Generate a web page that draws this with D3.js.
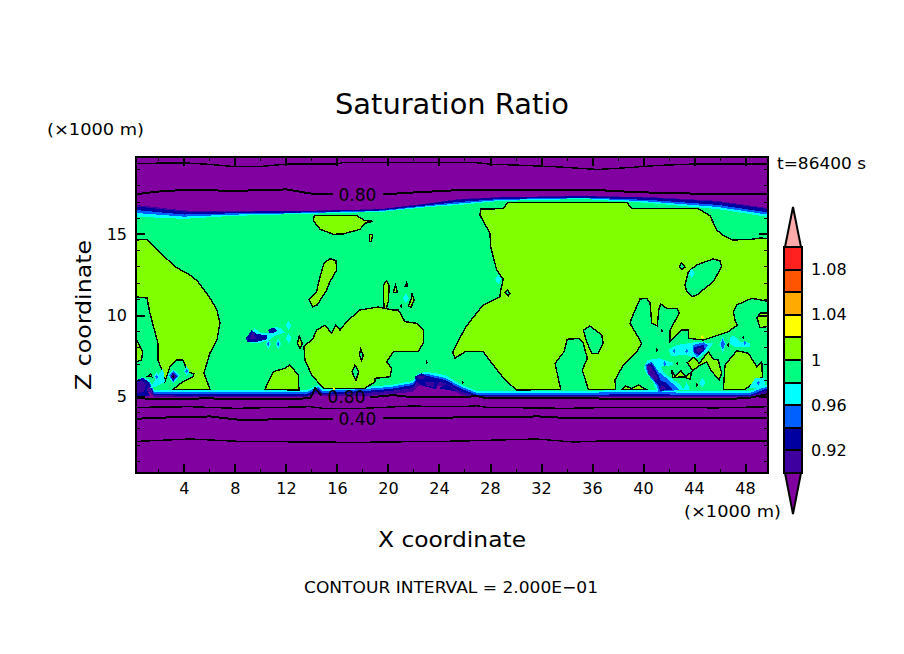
<!DOCTYPE html>
<html>
<head>
<meta charset="utf-8">
<script src="https://cdn.jsdelivr.net/npm/d3@7"></script>
<style>
  body { margin: 0; background: #fff; }
  text { font-family: "DejaVu Sans", sans-serif; fill: #000; }
</style>
</head>
<body>
<svg id="chart" width="904" height="654"></svg>
<script>
// colour bar
var levels = [0.9, 0.92, 0.94, 0.96, 0.98, 1, 1.02, 1.04, 1.06, 1.08, 1.1];
var levelColors = ["#3f00a0", "#0000a0", "#0060ff", "#00ffff", "#00ff80", "#80ff00", "#ffff00", "#ffaa00", "#ff5500", "#ff2020"];
var belowColor = "#8000a0", aboveColor = "#ffaaaa";
var barLabels = [0.92, 0.96, 1, 1.04, 1.08];

var xMajor = [4, 8, 12, 16, 20, 24, 28, 32, 36, 40, 44, 48];
var xMinor = [2, 6, 10, 14, 18, 22, 26, 30, 34, 38, 42, 46];
var zMajor = [5, 10, 15];
var zMinor = [1, 2, 3, 4, 6, 7, 8, 9, 11, 12, 13, 14, 16, 17, 18, 19];

// edges of the moist layer, one array per level
var xTop = [0.2, 4, 7.6, 12.9, 19.4, 23.3, 25.6, 28.8, 35.3, 40.5, 45.8, 49.8];
var top090 = [16.8, 16.45, 16.42, 16.42, 16.54, 16.91, 17.16, 17.28, 17.35, 17.28, 17.05, 16.6];
var top092 = [16.7, 16.38, 16.38, 16.40, 16.52, 16.88, 17.12, 17.25, 17.33, 17.24, 16.99, 16.53];
var top094 = [16.48, 16.2, 16.27, 16.32, 16.45, 16.79, 16.98, 17.16, 17.25, 17.1, 16.8, 16.33];
var top096 = [16.3, 16.07, 16.19, 16.28, 16.41, 16.73, 16.88, 17.1, 17.21, 17.0, 16.67, 16.19];
var top098 = [16.07, 15.93, 16.11, 16.23, 16.36, 16.67, 16.79, 17.04, 17.16, 16.91, 16.54, 16.05];

var xLow = [0.2, 0.71, 1.33, 1.65, 5.02, 9.18, 13.65, 14.12, 14.51, 14.9, 18.2, 20.16, 21.96, 22.35, 23.14, 24.47, 25.8, 26.98, 33.49, 40.31, 44.47, 48.39, 49.8];
var low090 = [5, 5.25, 5.25, 4.94, 4.94, 4.94, 4.94, 5.06, 5.19, 5, 5, 5.12, 5.25, 5.62, 5.74, 5.56, 5.06, 4.94, 4.94, 4.94, 4.94, 4.94, 5.19];
var low092 = [5.49, 5.8, 5.56, 5.06, 5, 5, 5, 5.19, 5.31, 5.12, 5.19, 5.31, 5.49, 5.99, 5.99, 5.8, 5.25, 5, 5, 5, 5, 5, 5.37];
var low094 = [5.62, 5.93, 5.74, 5.12, 5.12, 5.12, 5.12, 5.31, 5.43, 5.19, 5.31, 5.43, 5.68, 6.17, 6.23, 5.99, 5.43, 5.06, 5.06, 5.12, 5.06, 5.06, 5.49];
var low096 = [5.74, 6.05, 5.86, 5.25, 5.25, 5.25, 5.25, 5.43, 5.56, 5.31, 5.43, 5.56, 5.8, 6.3, 6.36, 6.11, 5.56, 5.19, 5.19, 5.25, 5.19, 5.19, 5.62];
var low098 = [5.86, 6.17, 5.99, 5.37, 5.37, 5.37, 5.37, 5.56, 5.68, 5.43, 5.56, 5.68, 5.93, 6.42, 6.48, 6.30, 5.68, 5.31, 5.31, 5.37, 5.31, 5.31, 5.74];

// regions above 1.0, as [x, z] in the chart's own units
var limeLeft = [[0,14.63],[0.29,14.63],[1.07,14.67],[1.57,14.32],[2.35,13.70],[3.29,12.98],[4.47,12.47],[5.1,12.06],[6.04,11.05],[6.59,10.31],[6.82,9.51],[6.59,8.46],[6.04,7.65],[5.57,6.42],[6.04,5.41],[3.14,5.41],[3.92,5.88],[4.71,6.19],[4.78,6.36],[4.31,6.50],[3.92,7.22],[3.45,7.22],[2.9,6.81],[2.51,5.88],[2.27,6.6],[1.96,7.22],[1.96,8.27],[1.33,10.12],[1.1,11.05],[0.29,11.11],[0,11.11]];
var limeEdge = [[0,8.46],[0.29,8.46],[0.76,7.73],[0.67,7.22],[0.29,7.12],[0,7.12]];
var limeHigh = [[14.22,16.13],[17.55,16.13],[18.2,15.82],[18.85,15.78],[18.2,15.66],[17.8,15.29],[16.49,15.0],[15.71,14.98],[14.67,15.29],[14.14,15.82]];
var limeSliver = [[18.53,14.98],[18.8,14.98],[18.69,14.52],[18.53,14.52]];
var limeLong = [[15.45,13.48],[15.92,13.35],[15.98,12.78],[15.45,12.06],[15.19,11.54],[14.45,10.62],[14.09,10.51],[13.8,10.97],[14.4,11.44],[14.67,12.36],[14.98,13.19]];
var limeNeck = [[19.9,12.12],[20.1,11.75],[20.02,10.82],[19.84,10.3],[19.69,10.3],[19.63,11.85]];
var limeTiny1 = [[20.6,11.85],[20.73,11.38],[20.42,11.38],[20.5,11.65]];
var limeTiny2 = [[21.47,12.0],[21.54,11.79],[21.36,11.79]];
var limeTiny3 = [[21.88,11.34],[22.06,10.93],[21.8,10.47],[21.6,10.56],[21.85,11.03]];
var limeTiny4 = [[13.04,8.7],[13.28,8.25],[13.1,7.94],[12.89,8.25]];
var limeMiddle = [[17.8,10.31],[16.76,9.59],[16.24,9.07],[15.92,9.38],[15.58,8.87],[15.06,9.38],[14.41,9.07],[14.12,8.56],[13.41,8.04],[13.49,7.22],[14.02,6.30],[14.93,5.48],[18.2,5.48],[18.98,5.88],[18.98,6.09],[20.16,6.19],[20.29,6.71],[19.9,7.12],[20.42,7.73],[22.35,7.73],[22.77,8.25],[22.77,9.07],[22.25,9.49],[21.33,9.59],[20.81,10.31],[20.39,10.31],[19.2,10.49]];
var limeHump = [[12.31,6.91],[12.96,6.3],[13.02,5.37],[10.35,5.41],[11.0,6.5],[11.92,6.71]];
var limeBig = [[27.27,16.54],[29.04,16.56],[29.36,16.93],[38.77,16.93],[39.11,16.56],[44.34,16.56],[45.25,16.13],[45.78,15.25],[46.3,14.9],[47.03,14.63],[48.52,14.67],[49.18,14.75],[49.96,14.71],[49.96,10.82],[48.52,11.03],[47.35,10.62],[47.08,10.2],[47.21,9.69],[47.4,9.38],[46.69,8.97],[45.51,8.66],[44.73,8.46],[43.55,8.56],[43.55,9.07],[43.03,9.07],[42.12,8.35],[42.12,9.07],[42.85,10.12],[42.64,10.41],[41.86,10.41],[41.39,10.68],[41.23,10.31],[41.12,9.32],[40.68,9.49],[40.55,10.74],[40.29,11.03],[39.76,10.99],[39.11,9.81],[38.98,9.49],[39.9,8.25],[39.5,7.73],[38.45,6.91],[37.8,5.99],[37.86,5.41],[35.71,5.41],[35.24,6.6],[35.63,7.33],[35.32,8.25],[35.0,8.56],[34.06,8.5],[33.8,7.73],[33.1,7.02],[33.54,5.41],[30.09,5.37],[29.18,5.99],[28.26,6.91],[27.47,7.73],[26.04,7.73],[25.25,7.33],[25.07,7.73],[26.04,9.18],[26.64,9.81],[27.47,10.62],[28.78,11.13],[28.84,11.54],[29.04,12.2],[28.52,12.78],[28.05,14.22],[28.0,15.04],[27.21,16.17]];
var limeRightEdge = [[48.94,9.82],[49.18,10.12],[49.96,10.12],[49.96,9.32],[49.18,9.21]];
var limeLowRight = [[46.3,5.41],[46.43,6.91],[47.35,7.8],[48.26,7.64],[48.92,6.81],[49.31,7.12],[49.36,6.19],[47.99,5.41]];
var limeWave = [[44.41,7.02],[45.12,7.73],[45.51,7.27],[45.9,7.22],[46.17,6.4],[45.98,6.03],[45.39,6.5],[45,7.12],[44.47,6.91],[43.9,6.56],[43.47,7.06],[43.95,7.39]];
var limeChain = [[42.25,6.6],[42.51,6.23],[42.96,6.56],[43.37,6.23],[43.82,6.5],[43.69,6.03],[43.16,6.19],[42.33,6.13]];
var limeFloor = [[38.33,5.41],[38.64,5.62],[39.11,5.46],[39.63,5.68],[40.23,5.41]];
var limeSpeck = [[1.18,6.23],[1.41,6.36],[1.47,6.19]];

// holes back down below 1.0
var holeMid1 = [[17.86,7.88],[18.06,7.53],[17.94,7.18],[17.75,7.53]];
var holeMid2 = [[17.41,6.91],[17.7,6.5],[17.49,5.94],[17.18,6.5]];
var holeBig1 = [[35.32,9.07],[35.84,9.32],[36.76,8.77],[36.88,8.25],[36.49,7.64],[35.97,7.64],[35.58,8.35]];
var holeBig2 = [[29.36,11.54],[29.57,11.34],[29.44,11.17],[29.2,11.38]];
var holeBig3 = [[43.03,13.23],[43.29,12.94],[43.03,12.82],[42.85,12.98]];
var holeBig4 = [[45.51,13.46],[46.04,13.33],[46.17,12.98],[45.51,12.06],[44.21,11.23],[43.82,11.13],[43.43,11.44],[43.29,11.85],[43.55,12.67],[44.21,13.09]];

// dry patches: cyan, blue, navy, indigo
var cyanPatches = [
  [[9.02,8.56],[9.54,9.18],[10.06,8.87],[10.71,8.87],[11.11,9.28],[11.63,9.18],[11.9,8.91],[10.98,8.66],[10.71,8.46],[9.79,8.25],[9.26,8.25]],
  [[41.98,7.84],[42.64,8.15],[44.34,8.35],[45.51,8.25],[45,7.73],[44.34,7.33],[43.16,7.55],[42.25,7.44]],
  [[46.82,8.66],[47.21,8.7],[47.6,8.35],[48.39,8.29],[48.39,8.04],[47.21,8],[46.82,8.25]],
  [[46.25,8.66],[46.51,8.21],[46.25,7.64],[45.98,8.21]],
  [[48.26,5.48],[48.78,6.09],[49.56,6.09],[49.56,5.48]],
  [[43.16,5.37],[43.43,5.88],[43.69,5.37]],
  [[40.08,6.81],[40.37,7.22],[41.27,7.33],[42.33,7.06],[42.33,6.91],[41.41,6.81],[41.67,6.4],[42.96,5.68],[43.22,5.37],[41.07,5.26],[40.8,5.88],[40.16,6.5]],
  [[1.33,5.49],[2.35,6.73],[2.51,5.86],[1.73,5.56]],
  [[2.69,6.3],[3.16,6.65],[3.69,6.25],[3.16,5.78]]
];
var bluePatches = [
  [[43.94,8.15],[44.73,8.31],[45.12,8.15],[44.73,7.73],[44.21,7.39],[43.94,7.73]],
  [[46.25,8.52],[46.43,8.21],[46.25,7.84],[46.08,8.21]],
  [[40.16,6.91],[40.68,7.12],[41.2,6.5],[41.86,6.09],[42.9,5.37],[41.2,5.26],[41.07,5.68],[40.41,6.3]],
  [[2.82,6.27],[3.16,6.55],[3.57,6.27],[3.16,5.86]]
];
var navyPatches = [
  [[8.86,8.56],[9.31,9.07],[9.7,8.83],[10.49,8.76],[10.53,8.5],[9.57,8.31],[8.96,8.35]],
  [[10.61,9.07],[11,9.24],[11.32,9.03],[11,8.87],[10.69,8.91]],
  [[44.02,8],[44.73,8.17],[44.86,7.88],[44.41,7.53],[44.02,7.67]],
  [[40.29,6.91],[40.68,7.02],[41.2,6.3],[41.39,5.94],[41.86,5.82],[42.37,5.41],[41.33,5.31],[41.2,5.68],[40.41,6.4]],
  [[22.04,6.19],[22.64,6.4],[23.43,6.09],[23.95,5.88],[23.76,5.41],[22.51,5.68]],
  [[23.95,5.48],[24.6,5.74],[25.51,5.26]],
  [[0,5.93],[0.78,6.11],[1.25,5.86],[1.1,5.37],[1.33,5],[0,5]],
  [[2.94,6.23],[3.16,6.45],[3.45,6.23],[3.16,5.93]]
];
var indigoPatches = [
  [[9.12,8.5],[9.39,8.9],[9.7,8.5]],
  [[44.15,7.88],[44.6,8],[44.68,7.84],[44.34,7.64]],
  [[40.29,6.81],[40.55,6.91],[41.2,6.09],[40.94,5.94],[40.41,6.4]],
  [[41.39,5.68],[41.86,5.48],[41.33,5.37]],
  [[22.3,6.23],[22.9,6.25],[22.77,6.03],[22.38,6.03]],
  [[22.9,5.88],[23.68,5.88],[23.55,5.57],[23.03,5.62]],
  [[0,5.74],[0.71,5.93],[1.02,5.74],[0.86,5.25],[0,5.12]],
  [[2.98,6.2],[3.16,6.36],[3.37,6.2],[3.16,6.02]]
];

// small spots of one grid cell or so
var cyanSpotX = [12.21, 12.21, 10.61, 11.39, 21.41, 28.64, 43.82, 1.86, 4.21, 44.65];
var cyanSpotZ = [9.36, 8.56, 8.21, 8.21, 11.03, 12.2, 12.57, 6.19, 6.54, 5.82];
var blueSpotX = [10.61, 11.39, 1.86, 4.21, 42.45, 43.43, 41.7, 47.99, 49.04];
var blueSpotZ = [8.21, 8.21, 6.19, 6.54, 7.78, 7.76, 7.0, 8.27, 5.82];
var yellowSpotX = [44.65, 15.76];
var yellowSpotZ = [8.62, 5.43];
var speckX = [25.86, 41.07, 41.47, 42.69, 44.21, 47.86, 46.69, 21.04, 23.03, 3.16];
var speckZ = [5.82, 7.84, 9.03, 7.02, 5.68, 8.62, 8.15, 10.56, 7.08, 6.2];

// contours, null marks the gap for a label
var line060Top = [[0.29,19.35],[3.92,19.39],[5.77,19.31],[7.61,19.18],[10.2,19.18],[12.05,19.31],[13.88,19.31],[16,19.31],[16.47,19.41],[25.49,19.41],[26.8,19.41],[28.03,19.31],[30.68,19.23],[33.31,19.14],[36.45,18.98],[38.55,19.08],[41.18,19.23],[43.77,19.31],[46.41,19.31],[49.8,19.31]];
var line080Top = [[0.29,17.46],[2.35,17.65],[5.02,17.74],[7.61,17.65],[12.05,17.75],[13.88,17.5],[15.71,17.44],null,[19.62,17.44],[21.96,17.56],[25.65,17.71],[29.04,17.73],[36.88,17.69],[38.98,17.6],[42.64,17.5],[49.8,17.48]];
var line080Low = [[0.29,4.86],[3.14,4.8],[5.77,4.86],[8.36,4.8],[11.49,4.8],[13.88,4.86],[14.12,5.17],[14.27,5.48],[14.77,5.06],null,[18.59,4.92],[20.42,5.06],[21.96,4.92],[25.65,4.92],[26.98,5.0],[27.76,4.86],[32.16,4.9],[37.93,4.83],[47.08,4.83],[48.39,4.9],[49.8,5.12]];
var line060Low = [[0.29,4.3],[4.47,4.34],[8.12,4.24],[13.88,4.34],[14.9,4.24],[18.06,4.24],[21.72,4.38],[25.65,4.34],[26.98,4.4],[27.76,4.3],[34.0,4.24],[37.93,4.3],[45.78,4.27],[49.8,4.34]];
var line040Low = [[0.29,3.6],[3.43,3.7],[6.04,3.74],[8.36,3.53],[15.71,3.6],null,[19.62,3.62],[25.65,3.68],[31.78,3.74],[33.1,3.7],[33.88,3.62],[49.8,3.62]];
var line020Low = [[0.29,2.2],[4.47,2.35],[8.36,2.2],[17.55,2.14],[25.65,2.22],[31.65,2.35],[34.54,2.16],[36.6,2.22],[49.8,2.22]];
var labelText = ["0.80", "0.80", "0.40"];
var labelX = [17.6, 16.75, 17.6];
var labelZ = [17.4, 4.95, 3.6];

var svg = d3.select("#chart");
var x = d3.scaleLinear().domain([0.24, 49.8]).range([136, 768]);
var z = d3.scaleLinear().domain([0.25, 19.75]).range([473, 157]);
var barY = d3.scaleLinear().domain([0.9, 1.1]).range([473, 247]);

svg.append("rect").attr("width", 904).attr("height", 654).attr("fill", "#fff");
svg.append("clipPath").attr("id", "plot-clip").append("rect")
  .attr("x", 136).attr("y", 157).attr("width", 632).attr("height", 316);

var plot = svg.append("g").attr("clip-path", "url(#plot-clip)").attr("shape-rendering", "crispEdges");
var shape = d3.line().x(function(d) { return x(d[0]); }).y(function(d) { return z(d[1]); }).curve(d3.curveLinearClosed);
var trace = d3.line().defined(function(d) { return d; }).x(function(d) { return x(d[0]); }).y(function(d) { return z(d[1]); });

function fillShape(points, color, outlined) {
  plot.append("path").attr("d", shape(points)).attr("fill", color)
    .attr("stroke", outlined ? "#000" : "none").attr("stroke-width", outlined ? 1.4 : 0);
}

plot.append("rect").attr("x", 136).attr("y", 157).attr("width", 632).attr("height", 316).attr("fill", belowColor);

// moist layer from the outermost level inward
[[top090, low090], [top092, low092], [top094, low094], [top096, low096], [top098, low098]].forEach(function(edge, i) {
  var ring = xTop.map(function(v, j) { return [v, edge[0][j]]; })
    .concat(xLow.map(function(v, j) { return [v, edge[1][j]]; }).reverse());
  fillShape(ring, levelColors[i], false);
});

[limeLeft, limeEdge, limeHigh, limeSliver, limeLong, limeNeck, limeTiny1, limeTiny2, limeTiny3, limeTiny4, limeMiddle, limeHump, limeBig, limeRightEdge, limeLowRight, limeWave, limeChain, limeFloor, limeSpeck]
  .forEach(function(p) { fillShape(p, levelColors[5], true); });
[holeMid1, holeMid2, holeBig1, holeBig2, holeBig3, holeBig4]
  .forEach(function(p) { fillShape(p, levelColors[4], true); });

cyanPatches.forEach(function(p) { fillShape(p, levelColors[3], false); });
bluePatches.forEach(function(p) { fillShape(p, levelColors[2], false); });
navyPatches.forEach(function(p) { fillShape(p, levelColors[1], false); });
indigoPatches.forEach(function(p) { fillShape(p, levelColors[0], false); });

function spots(xs, zs, color, size) {
  plot.selectAll(null).data(xs).enter().append("path")
    .attr("d", d3.symbol().type(d3.symbolDiamond).size(size))
    .attr("transform", function(d, i) { return "translate(" + x(d) + "," + z(zs[i]) + ")"; })
    .attr("fill", color);
}
spots(cyanSpotX, cyanSpotZ, levelColors[3], 30);
spots(blueSpotX, blueSpotZ, levelColors[2], 7);
spots(yellowSpotX, yellowSpotZ, levelColors[6], 6);
spots(speckX, speckZ, "#000", 5);

[[line060Top, 1.4], [line080Top, 2], [line080Low, 2], [line060Low, 1.4], [line040Low, 2], [line020Low, 1.4]].forEach(function(c) {
  plot.append("path").attr("d", trace(c[0])).attr("fill", "none").attr("stroke", "#000").attr("stroke-width", c[1]);
});

// contour labels sit on the plot, the lines leave them a gap
svg.selectAll(null).data(labelText).enter().append("text")
  .attr("x", function(d, i) { return x(labelX[i]); })
  .attr("y", function(d, i) { return z(labelZ[i]); })
  .attr("text-anchor", "middle").attr("dominant-baseline", "central")
  .attr("font-size", 17).text(function(d) { return d; });

// frame and ticks on all four sides
function tickAxis(axis, values, size, labelled, pad) {
  return axis.tickValues(values).tickSize(-size).tickSizeOuter(0).tickPadding(pad || 10)
    .tickFormat(labelled ? d3.format("d") : "");
}
function addAxis(axis, tx, ty, weight) {
  var g = svg.append("g").attr("transform", "translate(" + tx + "," + ty + ")").call(axis);
  g.select(".domain").remove();
  g.selectAll("line").attr("stroke", "#000").attr("stroke-width", weight).attr("shape-rendering", "crispEdges");
  g.selectAll("text").attr("font-size", 16).attr("font-family", "\"DejaVu Sans\", sans-serif");
  return g;
}
addAxis(tickAxis(d3.axisBottom(x), xMajor, 9, true, 10), 0, 473, 2);
addAxis(tickAxis(d3.axisBottom(x), xMinor, 4, false), 0, 473, 1);
addAxis(tickAxis(d3.axisTop(x), xMajor, 9, false), 0, 157, 2);
addAxis(tickAxis(d3.axisTop(x), xMinor, 4, false), 0, 157, 1);
addAxis(tickAxis(d3.axisLeft(z), zMajor, 9, true, 9), 136, 0, 2);
addAxis(tickAxis(d3.axisLeft(z), zMinor, 4, false), 136, 0, 1);
addAxis(tickAxis(d3.axisRight(z), zMajor, 9, false), 768, 0, 2);
addAxis(tickAxis(d3.axisRight(z), zMinor, 4, false), 768, 0, 1);
svg.append("rect").attr("x", 136).attr("y", 157).attr("width", 632).attr("height", 316)
  .attr("fill", "none").attr("stroke", "#000").attr("stroke-width", 2.5).attr("shape-rendering", "crispEdges");

// colour bar with pointed ends
var bar = svg.append("g");
bar.selectAll(null).data(levelColors).enter().append("rect")
  .attr("x", 784).attr("width", 18)
  .attr("y", function(d, i) { return barY(levels[i + 1]); })
  .attr("height", function(d, i) { return barY(levels[i]) - barY(levels[i + 1]); })
  .attr("fill", function(d) { return d; })
  .attr("stroke", "#000").attr("stroke-width", 2).attr("shape-rendering", "crispEdges");
bar.append("path").attr("d", "M785,247L793,207L801,247Z").attr("fill", aboveColor).attr("stroke", "#000").attr("stroke-width", 2);
bar.append("path").attr("d", "M785,473L793,514L801,473Z").attr("fill", belowColor).attr("stroke", "#000").attr("stroke-width", 2);
bar.selectAll(null).data(barLabels).enter().append("text")
  .attr("x", 811).attr("y", function(d) { return barY(d); })
  .attr("dominant-baseline", "central").attr("font-size", 16)
  .text(function(d) { return d; });

// titles
function label(text, tx, ty, size, width) {
  return svg.append("text").attr("x", tx).attr("y", ty).attr("font-size", size)
    .attr("textLength", width).attr("lengthAdjust", "spacingAndGlyphs").text(text);
}
label("Saturation Ratio", 335, 114, 28, 234);
label("(\u00d71000 m)", 47, 135, 16, 97);
label("(\u00d71000 m)", 684, 517, 16, 97);
label("t=86400 s", 777, 169, 15, 89);
label("X coordinate", 378, 547, 22, 148);
label("CONTOUR INTERVAL = 2.000E\u221201", 304, 593, 16, 294);
svg.append("text").attr("transform", "translate(91,390) rotate(-90)").attr("font-size", 22)
  .attr("textLength", 150).attr("lengthAdjust", "spacingAndGlyphs").text("Z coordinate");
</script>
</body>
</html>
